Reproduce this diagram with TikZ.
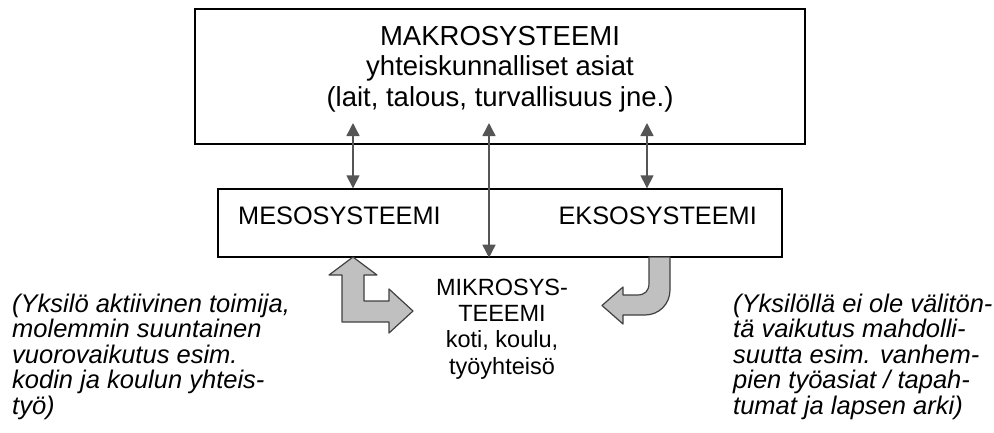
\documentclass[tikz,border=0pt]{standalone}
\usepackage{fontspec}
\setmainfont{Liberation Sans}
\usetikzlibrary{arrows.meta}
\definecolor{linkgray}{HTML}{555555}
\definecolor{blockfill}{HTML}{C0C0C0}
\definecolor{blockline}{HTML}{404040}
\begin{document}
\begin{tikzpicture}[x=1pt,y=-1pt,
  bigtxt/.style={font=\fontsize{27.5}{31}\selectfont, inner sep=0pt},
  txt/.style={font=\fontsize{25.3}{28}\selectfont, inner sep=0pt},
  smalltxt/.style={font=\fontsize{23.5}{26.5}\selectfont, inner sep=0pt},
  note/.style={font=\fontsize{25.5}{26.5}\selectfont\itshape, inner sep=0pt, anchor=base west},
  sysbox/.style={draw=black, line width=1.4pt, inner sep=0pt},
  link/.style={draw=linkgray, line width=1.5pt,
    {Triangle[width=13pt,length=13pt]}-{Triangle[width=13pt,length=13pt]}},
  block/.style={fill=blockfill, draw=blockline, line width=1.2pt, line join=round}]
\useasboundingbox (0,0) rectangle (994,432);

% system boxes
\node[sysbox, minimum width=610pt, minimum height=135pt] (makro) at (500,76.5) {};
\node[sysbox, minimum width=564pt, minimum height=68pt] (meso) at (500,223) {};

% macro system text
\node[bigtxt, anchor=base] (makro1) at (500,45) {MAKROSYSTEEMI};
\node[bigtxt, anchor=base] (makro2) at (500,75.5) {yhteiskunnalliset asiat};
\node[bigtxt, anchor=base] (makro3) at (500,106) {(lait, talous, turvallisuus jne.)};

% meso / exo labels
\node[txt, anchor=base west] (mesotext) at (238,224) {MESOSYSTEEMI};
\node[txt, anchor=base east] (eksotext) at (757,224) {EKSOSYSTEEMI};

% micro system text
\node[smalltxt, anchor=base] (mikro1) at (502,295) {MIKROSYS-};
\node[smalltxt, anchor=base] (mikro2) at (502,321) {TEEEMI};
\node[smalltxt, anchor=base] (mikro3) at (502,347.5) {koti, koulu,};
\node[smalltxt, anchor=base] (mikro4) at (502,374) {työyhteisö};

% two-way links between the levels
\coordinate (aL) at (353,123);
\coordinate (aC) at (489,123);
\coordinate (aR) at (647,123);
\draw[link] (aL) -- (aL |- meso.north);
\draw[link] (aC) -- (aC |- meso.south);
\draw[link] (aR) -- (aR |- meso.north);

% two-headed bent block arrow (meso)
\draw[block] (353,257) -- (377,275) -- (364,275) -- (364,301) -- (389,301)
  -- (389,289) -- (413,311) -- (389,333) -- (389,322) -- (342,322)
  -- (342,275) -- (329,275) -- cycle;

% curved one-way block arrow (exo)
\draw[block] (649,257) -- (649,283) .. controls (649,291) and (645,295) .. (637,295)
  -- (623,295) -- (623,287) -- (602,305.5) -- (623,324) -- (623,315)
  -- (645,315) .. controls (659,315) and (670,304) .. (670,290) -- (670,257) -- cycle;

% side notes
\foreach \t [count=\i] in {{(Yksilö aktiivinen toimija,},{molemmin suuntainen},
    {vuorovaikutus esim.},{kodin ja koulun yhteis-},{työ)}}
  \node[note] (leftnote\i) at (12,{312+25.5*(\i-1)}) {\t};
\foreach \t [count=\i] in {{(Yksilöllä ei ole välitön-},{tä vaikutus mahdolli-},
    {suutta esim. vanhem-},{pien työasiat / tapah-},{tumat ja lapsen arki)}}
  \node[note] (rightnote\i) at (733,{312+25.5*(\i-1)}) {\t};
\end{tikzpicture}
\end{document}
